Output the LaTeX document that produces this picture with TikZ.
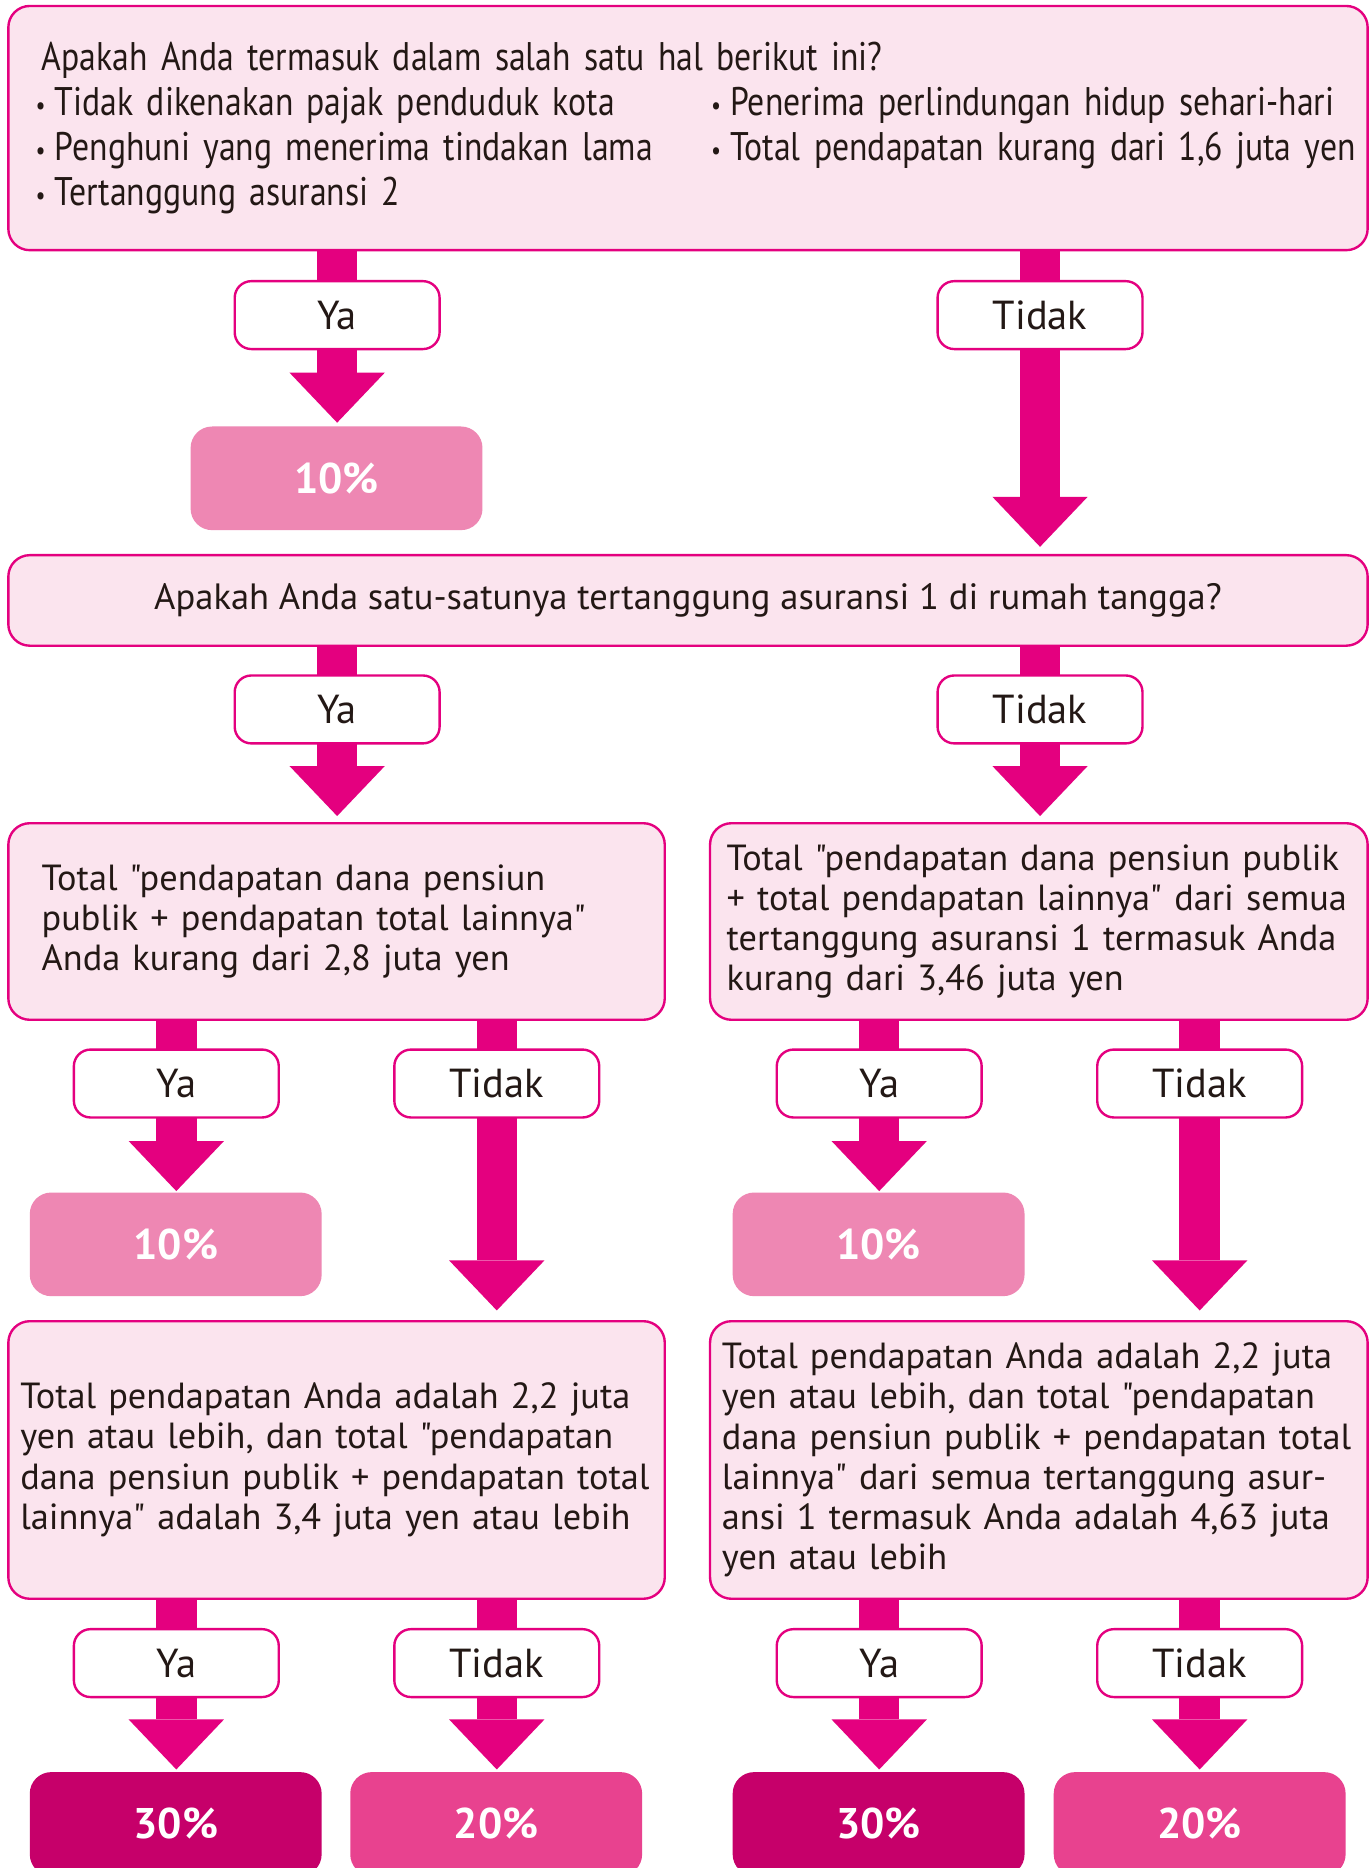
\documentclass[tikz,border=0pt]{standalone}
\usepackage{fontspec}
\setmainfont{PT Sans}[Ligatures=TeXOff]
\newfontfamily\condfont{PT Sans}[FakeStretch=0.845, WordSpace=0.8, Ligatures=TeXOff]
\usetikzlibrary{arrows.meta,backgrounds}
\definecolor{mag}{HTML}{E4007F}
\definecolor{boxfill}{HTML}{FBE4EE}
\definecolor{tenfill}{HTML}{EE87B3}
\definecolor{thirtyfill}{HTML}{C6006A}
\definecolor{twentyfill}{HTML}{E8428F}
\definecolor{txt}{HTML}{231815}
\newcommand\qfont{\fontsize{30.5}{33.7}\selectfont}
\newcommand\tfont{\condfont\fontsize{33.5}{38}\selectfont}
\newcommand\bul{\makebox[16pt][l]{\raisebox{1pt}{\fontsize{22}{22}\selectfont\textbullet}}}
\begin{document}
\begin{tikzpicture}[x=1pt,y=-1pt,
  qbox/.style={draw=mag, line width=2pt, fill=boxfill, rounded corners=18pt, inner ysep=0pt, text=txt, align=left, font=\qfont},
  lbl/.style={draw=mag, line width=2pt, fill=white, rounded corners=14pt, minimum width=172pt, minimum height=57pt, inner sep=0pt, text=txt, font=\fontsize{34}{38}\selectfont},
  res/.style={rounded corners=18pt, minimum width=245pt, minimum height=87pt, inner sep=0pt, text=white, font=\bfseries\fontsize{36}{40}\selectfont},
  flow/.style={draw=mag, line width=34pt, shorten >=3pt, -{Triangle[width=80pt,length=42pt,line width=0pt]}}]
\useasboundingbox (0,0) rectangle (1150,1568);

% top question
\node[qbox, minimum width=1141pt, minimum height=205pt, inner xsep=23pt, text width=1095pt, font=\tfont] (q1) at (577.5,107.5)
 {\mbox{\hspace*{5pt}Apakah Anda termasuk dalam salah satu hal berikut ini?}\\
  \mbox{\makebox[567pt][l]{\bul Tidak dikenakan pajak penduduk kota}\bul Penerima perlindungan hidup sehari-hari}\\
  \mbox{\makebox[567pt][l]{\bul Penghuni yang menerima tindakan lama}\bul Total pendapatan kurang dari 1,6 juta yen}\\
  \mbox{\bul Tertanggung asuransi 2}};
\node[lbl] (a1y) at (283,264.5) {Ya};
\node[lbl] (a1n) at (873,264.5) {Tidak};
\node[res, fill=tenfill] (r1) at (282.5,401.5) {10\%};

% second question
\node[qbox, minimum width=1141pt, minimum height=76pt, inner xsep=10pt, align=center, font=\fontsize{30.7}{34}\selectfont] (q2) at (577.5,504)
 {Apakah Anda satu-satunya tertanggung asuransi 1 di rumah tangga?};
\node[lbl] (a2y) at (283,595.5) {Ya};
\node[lbl] (a2n) at (873,595.5) {Tidak};

% third row
\node[qbox, minimum width=551pt, minimum height=165pt, inner xsep=28pt, text width=495pt] (q3l) at (282.5,773.5)
 {\mbox{Total "pendapatan dana pensiun}\\
  \mbox{publik + pendapatan total lainnya"}\\
  \mbox{Anda kurang dari 2,8 juta yen}};
\node[qbox, minimum width=552pt, minimum height=165pt, inner xsep=14pt, text width=524pt] (q3r) at (872,773.5)
 {\mbox{Total "pendapatan dana pensiun publik}\\
  \mbox{+ total pendapatan lainnya" dari semua}\\
  \mbox{tertanggung asuransi 1 termasuk Anda}\\
  \mbox{kurang dari 3,46 juta yen}};
\node[lbl] (a3ly) at (148,909.5) {Ya};
\node[lbl] (a3ln) at (417,909.5) {Tidak};
\node[lbl] (a3ry) at (738,909.5) {Ya};
\node[lbl] (a3rn) at (1007,909.5) {Tidak};
\node[res, fill=tenfill] (r3l) at (147.5,1044.5) {10\%};
\node[res, fill=tenfill] (r3r) at (737.5,1044.5) {10\%};

% fourth row
\node[qbox, minimum width=551pt, minimum height=233pt, inner xsep=10pt, text width=531pt] (q4l) at (282.5,1225.5)
 {\mbox{Total pendapatan Anda adalah 2,2 juta}\\
  \mbox{yen atau lebih, dan total "pendapatan}\\
  \mbox{dana pensiun publik + pendapatan total}\\
  \mbox{lainnya" adalah 3,4 juta yen atau lebih}};
\node[qbox, minimum width=552pt, minimum height=233pt, inner xsep=10pt, text width=532pt] (q4r) at (872,1225.5)
 {\mbox{Total pendapatan Anda adalah 2,2 juta}\\
  \mbox{yen atau lebih, dan total "pendapatan}\\
  \mbox{dana pensiun publik + pendapatan total}\\
  \mbox{lainnya" dari semua tertanggung asur-}\\
  \mbox{ansi 1 termasuk Anda adalah 4,63 juta}\\
  \mbox{yen atau lebih}};
\node[lbl] (a4ly) at (148,1396) {Ya};
\node[lbl] (a4ln) at (417,1396) {Tidak};
\node[lbl] (a4ry) at (738,1396) {Ya};
\node[lbl] (a4rn) at (1007,1396) {Tidak};
\node[res, fill=thirtyfill] (r4ly) at (147.5,1531) {30\%};
\node[res, fill=twentyfill] (r4ln) at (416.5,1531) {20\%};
\node[res, fill=thirtyfill] (r4ry) at (737.5,1531) {30\%};
\node[res, fill=twentyfill] (r4rn) at (1007,1531) {20\%};

\begin{scope}[on background layer]
\fill[white] (0,0) rectangle (1150,1568);
\draw[flow] (q1.south -| a1y) -- (r1.north -| a1y);
\draw[flow, shorten >=6pt] (q1.south -| a1n) -- (q2.north -| a1n);
\draw[flow, shorten >=5pt] (q2.south -| a2y) -- (q3l.north -| a2y);
\draw[flow, shorten >=5pt] (q2.south -| a2n) -- (q3r.north -| a2n);
\draw[flow, shorten >=1pt] (q3l.south -| a3ly) -- (r3l.north -| a3ly);
\draw[flow, shorten >=8pt] (q3l.south -| a3ln) -- (q4l.north -| a3ln);
\draw[flow, shorten >=1pt] (q3r.south -| a3ry) -- (r3r.north -| a3ry);
\draw[flow, shorten >=8pt] (q3r.south -| a3rn) -- (q4r.north -| a3rn);
\draw[flow, shorten >=2pt] (q4l.south -| a4ly) -- (r4ly.north -| a4ly);
\draw[flow, shorten >=2pt] (q4l.south -| a4ln) -- (r4ln.north -| a4ln);
\draw[flow, shorten >=2pt] (q4r.south -| a4ry) -- (r4ry.north -| a4ry);
\draw[flow, shorten >=2pt] (q4r.south -| a4rn) -- (r4rn.north -| a4rn);
\end{scope}
\end{tikzpicture}
\end{document}
